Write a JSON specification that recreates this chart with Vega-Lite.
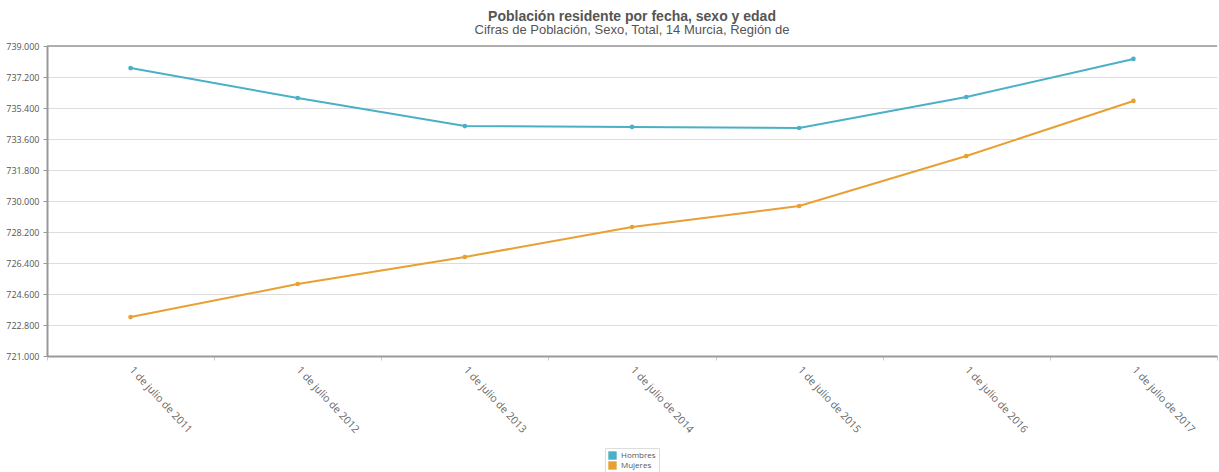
{
  "$schema": "https://vega.github.io/schema/vega-lite/v6.json",
  "width": 1170,
  "height": 310,
  "autosize": {"type": "none"},
  "padding": {"left": 47, "top": 46, "right": 2, "bottom": 116},
  "background": "white",
  "config": {
    "locale": {"number": {"decimal": ",", "thousands": ".", "grouping": [3], "currency": ["", " €"]}},
    "view": {"stroke": null},
    "font": "Open Sans"
  },
  "title": {
    "text": "Población residente por fecha, sexo y edad",
    "subtitle": "Cifras de Población, Sexo, Total, 14 Murcia, Región de",
    "anchor": "middle",
    "font": "Liberation Sans",
    "fontSize": 14,
    "fontWeight": "bold",
    "color": "#555555",
    "subtitleFont": "Liberation Sans",
    "subtitleFontSize": 13,
    "subtitleColor": "#555555",
    "subtitlePadding": 0,
    "offset": 5
  },
  "data": {
    "values": [
      {"fecha": "1 de julio de 2011", "sexo": "Hombres", "valor": 737720},
      {"fecha": "1 de julio de 2012", "sexo": "Hombres", "valor": 735980},
      {"fecha": "1 de julio de 2013", "sexo": "Hombres", "valor": 734350},
      {"fecha": "1 de julio de 2014", "sexo": "Hombres", "valor": 734300},
      {"fecha": "1 de julio de 2015", "sexo": "Hombres", "valor": 734240},
      {"fecha": "1 de julio de 2016", "sexo": "Hombres", "valor": 736040},
      {"fecha": "1 de julio de 2017", "sexo": "Hombres", "valor": 738250},
      {"fecha": "1 de julio de 2011", "sexo": "Mujeres", "valor": 723260},
      {"fecha": "1 de julio de 2012", "sexo": "Mujeres", "valor": 725180},
      {"fecha": "1 de julio de 2013", "sexo": "Mujeres", "valor": 726750},
      {"fecha": "1 de julio de 2014", "sexo": "Mujeres", "valor": 728490},
      {"fecha": "1 de julio de 2015", "sexo": "Mujeres", "valor": 729710},
      {"fecha": "1 de julio de 2016", "sexo": "Mujeres", "valor": 732610},
      {"fecha": "1 de julio de 2017", "sexo": "Mujeres", "valor": 735810}
    ]
  },
  "encoding": {
    "y": {
      "field": "valor",
      "type": "quantitative",
      "scale": {"domain": [721000, 739000], "nice": false, "zero": false},
      "axis": {
        "title": null,
        "values": [721000, 722800, 724600, 726400, 728200, 730000, 731800, 733600, 735400, 737200, 739000],
        "format": ",d",
        "labelFontSize": 9,
        "labelColor": "#555555",
        "labelPadding": 4,
        "tickSize": 4,
        "tickColor": "#999999",
        "domainColor": "#999999",
        "domainWidth": 2,
        "gridColor": "#dddddd",
        "grid": true
      }
    }
  },
  "layer": [
    {
      "data": {"values": [{"tope": 739000}]},
      "mark": {"type": "rule", "color": "#999999", "strokeWidth": 1.5},
      "encoding": {"y": {"field": "tope", "type": "quantitative"}}
    },
    {
      "layer": [
        {"mark": {"type": "line", "strokeWidth": 2}},
        {"mark": {"type": "circle", "size": 22, "opacity": 1}}
      ],
      "encoding": {
        "x": {
          "field": "fecha",
          "type": "nominal",
          "sort": null,
          "scale": {"type": "band", "paddingInner": 0, "paddingOuter": 0},
          "axis": {
            "title": null,
            "labelAngle": 47,
            "labelAlign": "left",
            "labelBaseline": "middle",
            "labelFontSize": 10.5,
            "labelColor": "#666666",
            "labelPadding": 8,
            "tickBand": "extent",
            "tickSize": 4,
            "tickColor": "#cccccc",
            "domainColor": "#999999",
            "domainWidth": 2,
            "grid": false
          }
        },
        "color": {
          "field": "sexo",
          "type": "nominal",
          "scale": {"domain": ["Hombres", "Mujeres"], "range": ["#4bb0c6", "#e8a033"]},
          "legend": {
            "title": null,
            "orient": "none",
            "legendX": 558,
            "legendY": 402,
            "symbolType": "square",
            "symbolSize": 70,
            "symbolStrokeWidth": 0,
            "symbolOpacity": 1,
            "labelFontSize": 8,
            "labelColor": "#555555",
            "rowPadding": 1,
            "padding": 3,
            "strokeColor": "#dddddd"
          }
        }
      }
    }
  ]
}
